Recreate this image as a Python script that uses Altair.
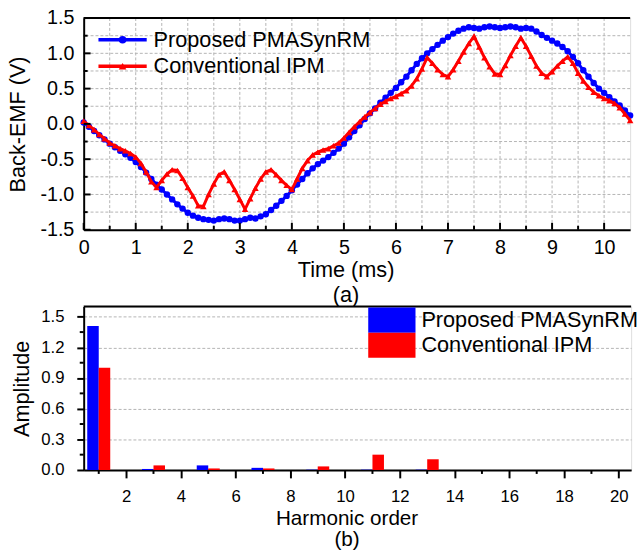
import altair as alt
import pandas as pd

# ---------------- data ----------------
time_ms = [0.0, 0.1, 0.2, 0.3, 0.4, 0.5, 0.6, 0.7, 0.8, 0.9,
           1.0, 1.1, 1.2, 1.3, 1.4, 1.5, 1.6, 1.7, 1.8, 1.9,
           2.0, 2.1, 2.2, 2.3, 2.4, 2.5, 2.6, 2.7, 2.8, 2.9,
           3.0, 3.1, 3.2, 3.3, 3.4, 3.5, 3.6, 3.7, 3.8, 3.9,
           4.0, 4.1, 4.2, 4.3, 4.4, 4.5, 4.6, 4.7, 4.8, 4.9,
           5.0, 5.1, 5.2, 5.3, 5.4, 5.5, 5.6, 5.7, 5.8, 5.9,
           6.0, 6.1, 6.2, 6.3, 6.4, 6.5, 6.6, 6.7, 6.8, 6.9,
           7.0, 7.1, 7.2, 7.3, 7.4, 7.5, 7.6, 7.7, 7.8, 7.9,
           8.0, 8.1, 8.2, 8.3, 8.4, 8.5, 8.6, 8.7, 8.8, 8.9,
           9.0, 9.1, 9.2, 9.3, 9.4, 9.5, 9.6, 9.7, 9.8, 9.9,
           10.0, 10.1, 10.2, 10.3, 10.4, 10.5]

emf_pmasynrm = [0.02, -0.04, -0.10, -0.16, -0.22, -0.28, -0.33, -0.38, -0.43, -0.48,
                -0.54, -0.61, -0.69, -0.78, -0.86, -0.93, -1.00, -1.07, -1.14, -1.20,
                -1.26, -1.30, -1.33, -1.35, -1.36, -1.37, -1.35, -1.34, -1.35, -1.37,
                -1.37, -1.35, -1.33, -1.34, -1.31, -1.28, -1.22, -1.16, -1.09, -1.02,
                -0.94, -0.86, -0.78, -0.70, -0.63, -0.57, -0.52, -0.47, -0.41, -0.35,
                -0.28, -0.19, -0.10, -0.02, 0.07, 0.15, 0.22, 0.30, 0.37, 0.44,
                0.51, 0.59, 0.67, 0.76, 0.85, 0.93, 1.00, 1.06, 1.12, 1.18,
                1.23, 1.28, 1.32, 1.35, 1.37, 1.36, 1.35, 1.37, 1.38, 1.37,
                1.36, 1.37, 1.38, 1.37, 1.35, 1.36, 1.35, 1.31, 1.26, 1.22,
                1.18, 1.14, 1.09, 1.03, 0.95, 0.86, 0.76, 0.67, 0.58, 0.50,
                0.44, 0.38, 0.32, 0.26, 0.19, 0.12]

emf_ipm = [0.04, -0.02, -0.08, -0.15, -0.21, -0.27, -0.31, -0.35, -0.38, -0.42,
           -0.47, -0.56, -0.68, -0.82, -0.90, -0.80, -0.71, -0.65, -0.66, -0.77,
           -0.90, -1.02, -1.16, -1.17, -1.00, -0.85, -0.72, -0.68, -0.80, -0.93,
           -1.07, -1.21, -1.06, -0.91, -0.78, -0.68, -0.65, -0.72, -0.80, -0.87,
           -0.93, -0.78, -0.63, -0.52, -0.44, -0.40, -0.37, -0.35, -0.31, -0.27,
           -0.20, -0.12, -0.04, 0.03, 0.10, 0.16, 0.22, 0.28, 0.32, 0.36,
           0.39, 0.43, 0.47, 0.54, 0.64, 0.78, 0.94, 0.86, 0.77, 0.70,
           0.67, 0.77, 0.89, 1.02, 1.14, 1.24, 1.09, 0.94, 0.81, 0.71,
           0.70, 0.83, 0.97, 1.10, 1.22, 1.10, 0.96, 0.82, 0.72, 0.67,
           0.74, 0.82, 0.89, 0.95, 0.86, 0.72, 0.61, 0.52, 0.45, 0.40,
           0.36, 0.33, 0.29, 0.23, 0.14, 0.05]

series_names = ["Proposed PMASynRM", "Conventional IPM"]
series_colors = ["#0000FF", "#FF0000"]

harmonic_order = [1, 3, 5, 7, 9, 11, 13, 15, 17, 19]
amp_pmasynrm = [1.41, 0.010, 0.045, 0.021, 0.003, 0.003, 0.003, 0.0, 0.0, 0.0]
amp_ipm = [1.00, 0.045, 0.015, 0.015, 0.035, 0.150, 0.105, 0.0, 0.0, 0.0]

# axis tick / grid values
top_x_major = [0, 1, 2, 3, 4, 5, 6, 7, 8, 9, 10]
top_x_minor = [0.5, 1.5, 2.5, 3.5, 4.5, 5.5, 6.5, 7.5, 8.5, 9.5]
top_x_grid = [0.5, 1, 1.5, 2, 2.5, 3, 3.5, 4, 4.5, 5, 5.5, 6, 6.5, 7, 7.5, 8, 8.5, 9, 9.5, 10]
top_y_major = [-1.5, -1.0, -0.5, 0.0, 0.5, 1.0, 1.5]
top_y_minor = [-1.25, -0.75, -0.25, 0.25, 0.75, 1.25]
top_y_grid = [-1.25, -1.0, -0.75, -0.5, -0.25, 0.0, 0.25, 0.5, 0.75, 1.0, 1.25]
bot_x_major = [2, 4, 6, 8, 10, 12, 14, 16, 18, 20]
bot_x_minor = [1, 3, 5, 7, 9, 11, 13, 15, 17, 19]
bot_y_major = [0.0, 0.3, 0.6, 0.9, 1.2, 1.5]
bot_y_minor = [0.15, 0.45, 0.75, 1.05, 1.35]

# ---------------- styling ----------------
FONT = "Liberation Sans"
GRID = "#b4b4b4"
W_TOP, H_TOP = 555, 215
W_BOT, H_BOT = 556, 166
BAR_W = 0.42

color_scale = alt.Scale(domain=series_names, range=series_colors)

# ---------------- top chart ----------------
curves = pd.DataFrame({
    "t": time_ms * 2,
    "v": emf_pmasynrm + emf_ipm,
    "series": [series_names[0]] * len(time_ms) + [series_names[1]] * len(time_ms),
})

xs_top = alt.Scale(domain=[0, 10.5], nice=False, zero=False)
ys_top = alt.Scale(domain=[-1.5, 1.5], nice=False, zero=False)

x_axis_top = alt.Axis(values=top_x_major, format="d", ticks=False, tickSize=0, grid=False,
                      domainColor="black", domainWidth=2, labelFont=FONT, labelFontSize=20,
                      labelColor="black", labelPadding=8, labelFlush=False,
                      title=["Time (ms)", "(a)"], titleFont=FONT, titleFontSize=22,
                      titleFontWeight="normal", titleColor="black", titleX=266, titleY=30,
                      titleBaseline="top", titleLineHeight=26)
y_axis_top = alt.Axis(values=top_y_major,
                      labelExpr="(datum.value < 0 ? '-' : '') + format(abs(datum.value), '.1f')",
                      ticks=False, tickSize=0, grid=False, domainColor="black", domainWidth=2,
                      labelFont=FONT, labelFontSize=20, labelColor="black", labelPadding=10,
                      labelFlush=False, title="Back-EMF (V)", titleFont=FONT, titleFontSize=22,
                      titleFontWeight="normal", titleColor="black", titleX=-67, titleY=107.5,
                      titleBaseline="middle")

def tx(field):
    return alt.X(field, scale=xs_top, axis=x_axis_top)

def ty(field):
    return alt.Y(field, scale=ys_top, axis=y_axis_top)

grid_v = alt.Chart(pd.DataFrame({"t": top_x_grid})).mark_rule(
    color=GRID, strokeWidth=1, strokeDash=[3, 2]).encode(x=tx("t:Q"))
grid_h = alt.Chart(pd.DataFrame({"v": top_y_grid})).mark_rule(
    color=GRID, strokeWidth=1, strokeDash=[3, 2]).encode(y=ty("v:Q"))

base_top = alt.Chart(curves).encode(
    x=tx("t:Q"),
    y=ty("v:Q"),
    color=alt.Color("series:N", scale=color_scale, legend=None),
)
blue_line = base_top.transform_filter(alt.datum.series == series_names[0]).mark_line(strokeWidth=3)
blue_pts = base_top.transform_filter(alt.datum.series == series_names[0]).mark_point(
    shape="circle", filled=True, size=42, opacity=1)
red_line = base_top.transform_filter(alt.datum.series == series_names[1]).mark_line(strokeWidth=3)
red_pts = base_top.transform_filter(alt.datum.series == series_names[1]).mark_point(
    shape="triangle-up", filled=True, size=44, opacity=1)

xt_major = alt.Chart(pd.DataFrame({"t": top_x_major})).mark_rule(color="black", strokeWidth=2).encode(
    x=tx("t:Q"), y=alt.value(H_TOP), y2=alt.value(H_TOP - 7))
xt_minor = alt.Chart(pd.DataFrame({"t": top_x_minor})).mark_rule(color="black", strokeWidth=2).encode(
    x=tx("t:Q"), y=alt.value(H_TOP), y2=alt.value(H_TOP - 4))
yt_major = alt.Chart(pd.DataFrame({"v": top_y_major})).mark_rule(color="black", strokeWidth=2).encode(
    y=ty("v:Q"), x=alt.value(0), x2=alt.value(7))
yt_minor = alt.Chart(pd.DataFrame({"v": top_y_minor})).mark_rule(color="black", strokeWidth=2).encode(
    y=ty("v:Q"), x=alt.value(0), x2=alt.value(4))
top_border = alt.Chart(pd.DataFrame({"a": [0]})).mark_rule(color="black", strokeWidth=2).encode(
    x=alt.value(0), x2=alt.value(W_TOP), y=alt.value(0))

# manual legend (top)
leg_layers = []
leg_shapes = ["circle", "triangle-up"]
for i, name in enumerate(series_names):
    yy = 22 + 27 * i
    d = pd.DataFrame({"label": [name]})
    leg_layers.append(alt.Chart(d).mark_rule(color=series_colors[i], strokeWidth=3.5).encode(
        x=alt.value(15), x2=alt.value(64), y=alt.value(yy)))
    leg_layers.append(alt.Chart(d).mark_point(shape=leg_shapes[i], filled=True, size=60,
                                              color=series_colors[i], opacity=1).encode(
        x=alt.value(39.5), y=alt.value(yy)))
    leg_layers.append(alt.Chart(d).mark_text(align="left", baseline="middle", font=FONT,
                                             fontSize=22, color="black").encode(
        x=alt.value(71), y=alt.value(yy), text="label:N"))

top = alt.layer(grid_v, grid_h, blue_line, blue_pts, red_line, red_pts,
                xt_major, xt_minor, yt_major, yt_minor, top_border, *leg_layers).properties(
    width=W_TOP, height=H_TOP)

# ---------------- bottom chart ----------------
bars = pd.DataFrame({
    "h": harmonic_order * 2,
    "amp": amp_pmasynrm + amp_ipm,
    "series": [series_names[0]] * len(harmonic_order) + [series_names[1]] * len(harmonic_order),
})
bars["x0"] = [h - BAR_W for h in harmonic_order] + [h for h in harmonic_order]
bars["x1"] = [h for h in harmonic_order] + [h + BAR_W for h in harmonic_order]

xs_bot = alt.Scale(domain=[0.45, 20.45], nice=False, zero=False)
ys_bot = alt.Scale(domain=[0, 1.6], nice=False)

x_axis_bot = alt.Axis(values=bot_x_major, format="d", tickSize=8, tickWidth=2, tickColor="black",
                      grid=False, domainColor="black", domainWidth=2, labelFont=FONT,
                      labelFontSize=17, labelColor="black", labelPadding=11, labelFlush=False,
                      title=["Harmonic order", "(b)"], titleFont=FONT, titleFontSize=21,
                      titleFontWeight="normal", titleColor="black", titleX=267, titleY=38,
                      titleBaseline="top", titleLineHeight=22)
y_axis_bot = alt.Axis(values=bot_y_major, format=".1f", tickSize=7, tickWidth=2, tickColor="black",
                      grid=True, gridColor=GRID, gridDash=[3, 2], gridWidth=1,
                      domainColor="black", domainWidth=2, labelFont=FONT, labelFontSize=17,
                      labelColor="black", labelPadding=13, labelFlush=False,
                      title="Amplitude", titleFont=FONT, titleFontSize=22,
                      titleFontWeight="normal", titleColor="black", titleX=-63, titleY=83,
                      titleBaseline="middle")

def bx(field):
    return alt.X(field, scale=xs_bot, axis=x_axis_bot)

def by(field):
    return alt.Y(field, scale=ys_bot, axis=y_axis_bot)

bar_layer = alt.Chart(bars).mark_rect(strokeWidth=0, opacity=1).encode(
    x=bx("x0:Q"),
    x2="x1:Q",
    y=by("amp:Q"),
    y2=alt.datum(0),
    color=alt.Color("series:N", scale=color_scale, legend=None),
)
xb_minor = alt.Chart(pd.DataFrame({"x0": bot_x_minor})).mark_rule(color="black", strokeWidth=2).encode(
    x=bx("x0:Q"), y=alt.value(H_BOT), y2=alt.value(H_BOT + 4))
yb_minor = alt.Chart(pd.DataFrame({"amp": bot_y_minor})).mark_rule(color="black", strokeWidth=2).encode(
    y=by("amp:Q"), x=alt.value(-4), x2=alt.value(0))
bot_border = alt.Chart(pd.DataFrame({"a": [0]})).mark_rule(color="black", strokeWidth=2).encode(
    x=alt.value(0), x2=alt.value(W_BOT), y=alt.value(0))

bleg = []
for i, name in enumerate(series_names):
    d = pd.DataFrame({"label": [name]})
    bleg.append(alt.Chart(d).mark_rect(color=series_colors[i], opacity=1).encode(
        x=alt.value(289), x2=alt.value(337), y=alt.value(1 + 25.5 * i), y2=alt.value(26.5 + 25.5 * i)))
    bleg.append(alt.Chart(d).mark_text(align="left", baseline="middle", font=FONT,
                                       fontSize=22, color="black").encode(
        x=alt.value(343), y=alt.value(14 + 25.5 * i), text="label:N"))

bottom = alt.layer(bar_layer, xb_minor, yb_minor, bot_border, *bleg).properties(
    width=W_BOT, height=H_BOT)

chart = alt.vconcat(top, bottom, spacing=78, bounds="flush").properties(
    padding={"left": 6, "top": 3, "right": 0, "bottom": 0}
).configure_view(strokeWidth=0).configure(font=FONT)

chart.save("out.html", embed_options={"renderer": "svg", "actions": False})
